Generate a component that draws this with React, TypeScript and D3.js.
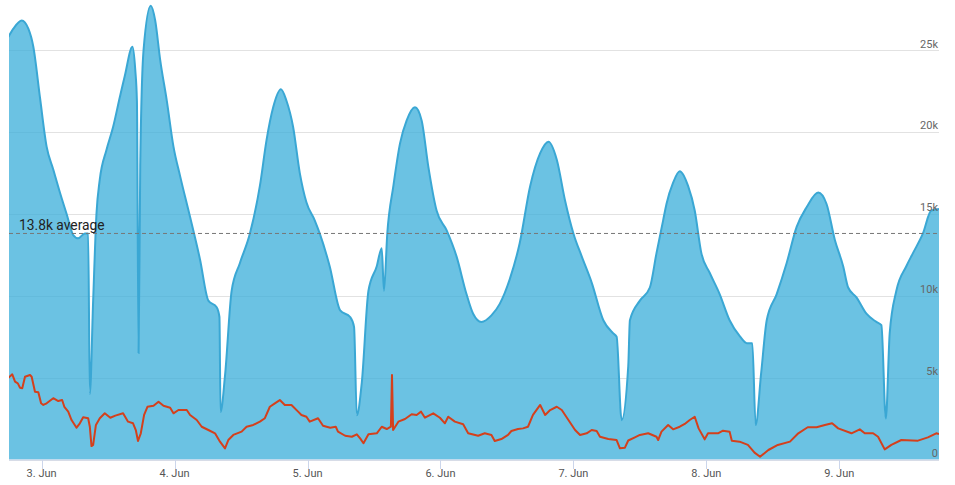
import React from "react";
import * as d3 from "d3";

// hours since 2 Jun 18:00
const blueHours = [0, 0.9, 2.4, 3.6, 4.5, 5.7, 6.9, 8.1, 9.3, 10.5, 11.7, 12.6, 13.8, 14.4, 14.7, 15.3, 15.9, 16.5, 17.7, 18.9, 20.1, 21.0, 22.4, 22.9, 23.2, 23.5, 23.8, 24.4, 25.7, 26.5, 27.4, 28.6, 29.8, 31.0, 32.8, 34.6, 36.1, 37.6, 38.1, 38.3, 39.1, 40.3, 41.8, 43.6, 45.4, 46.6, 47.8, 49.2, 50.2, 51.4, 52.6, 53.8, 55.3, 56.2, 58.0, 59.9, 61.7, 62.4, 62.9, 63.8, 65.0, 66.5, 67.4, 67.8, 68.4, 69.5, 70.7, 71.9, 73.4, 74.6, 75.8, 77.3, 79.1, 80.9, 82.7, 83.9, 85.4, 87.2, 88.7, 90.5, 92.3, 94.2, 96.0, 97.5, 99.0, 100.5, 102.0, 103.5, 105.3, 107.4, 109.2, 109.8, 110.7, 111.9, 112.2, 114.0, 115.8, 117.0, 118.2, 118.8, 120.0, 121.2, 122.7, 123.9, 125.1, 126.6, 128.4, 130.2, 132.1, 133.3, 134.3, 134.9, 135.9, 136.9, 138.7, 140.5, 142.3, 144.1, 146.2, 147.7, 149.2, 150.7, 151.6, 153.1, 154.9, 156.7, 157.6, 158.4, 159.1, 160.3, 162.1, 163.3, 165.1, 166.6, 168];
const blueValues = [25800, 26300, 26800, 26300, 25200, 22100, 19100, 17700, 16300, 15000, 13700, 13500, 13800, 13800, 4000, 9700, 15000, 17100, 18900, 20300, 22100, 23400, 25200, 23800, 21900, 6500, 17900, 25000, 27700, 26800, 24400, 21900, 19100, 17300, 14800, 12200, 9700, 9300, 8700, 2900, 5100, 10300, 12000, 13800, 16700, 19500, 21500, 22600, 21900, 20300, 17500, 15700, 14600, 13800, 11800, 9100, 8700, 8100, 2700, 4700, 10300, 11800, 12900, 10300, 13800, 16700, 19300, 20700, 21500, 20700, 17900, 15200, 14000, 12400, 10100, 8900, 8400, 8800, 9500, 11000, 13200, 16700, 18700, 19400, 18300, 15800, 13800, 12400, 10800, 8500, 7700, 7500, 2400, 5700, 8500, 9700, 10500, 12600, 14600, 15600, 16900, 17600, 16700, 15200, 12600, 11400, 10100, 8500, 7500, 7100, 7100, 2100, 5300, 8500, 10100, 12000, 14200, 15400, 16300, 15600, 13400, 11800, 10500, 9900, 8900, 8400, 8200, 2500, 7700, 10300, 11800, 12600, 13800, 15200, 15300];

const redHours = [0, 0.7, 1.2, 1.7, 2.1, 2.5, 3.0, 3.9, 4.2, 4.8, 5.4, 5.9, 6.3, 6.9, 8.1, 9.0, 9.7, 10.1, 10.8, 11.4, 12.3, 12.9, 13.5, 14.4, 14.7, 15.0, 15.3, 15.8, 16.5, 17.4, 18.4, 19.3, 20.7, 21.6, 22.5, 23.0, 23.4, 23.9, 24.5, 25.1, 26.2, 27.1, 28.0, 29.2, 29.8, 30.7, 32.2, 32.8, 34.0, 34.9, 36.1, 37.3, 38.2, 39.1, 39.7, 40.6, 42.1, 43.0, 44.2, 45.4, 46.3, 47.2, 48.1, 49.0, 49.9, 51.1, 52.3, 52.9, 53.8, 54.4, 55.9, 56.8, 58.1, 59.1, 59.5, 60.8, 62.0, 62.9, 63.5, 64.1, 65.0, 66.5, 67.4, 68.3, 69.05, 69.25, 69.45, 70.4, 71.6, 72.8, 73.7, 74.5, 75.2, 76.7, 77.9, 78.8, 79.4, 80.6, 82.1, 83.0, 84.8, 86.0, 87.2, 87.8, 89.0, 90.2, 90.8, 92.0, 92.9, 93.8, 94.7, 96.0, 96.9, 97.8, 99.0, 99.9, 101.1, 102.3, 103.2, 104.4, 105.3, 106.2, 106.8, 108.3, 109.8, 110.4, 111.3, 111.9, 113.1, 114.0, 115.5, 117.0, 117.3, 117.9, 119.1, 120.0, 121.2, 122.1, 123.0, 123.9, 124.6, 125.7, 126.3, 128.1, 129.0, 130.2, 130.6, 132.0, 133.5, 134.7, 135.7, 137.2, 138.9, 141.1, 142.6, 144.3, 145.9, 147.4, 148.7, 149.8, 152.2, 153.7, 154.6, 156.1, 157.0, 158.2, 159.4, 161.2, 164.2, 166.0, 167.5, 168];
const redValues = [4990, 5200, 4750, 4650, 4380, 4350, 5050, 5160, 5050, 4140, 4100, 3430, 3330, 3430, 3740, 3570, 3630, 3220, 2920, 2410, 1940, 2210, 2580, 2520, 2000, 820, 890, 2110, 2520, 2820, 2550, 2680, 2820, 2310, 2210, 1800, 1130, 1600, 2720, 3220, 3280, 3530, 3280, 3160, 2820, 3020, 3020, 2720, 2410, 2000, 1800, 1600, 1090, 680, 1190, 1500, 1700, 2000, 2110, 2310, 2520, 3220, 3430, 3630, 3330, 3330, 2920, 2720, 2610, 2310, 2520, 2060, 1940, 2000, 1700, 1450, 1390, 1540, 1290, 990, 1540, 1600, 2000, 1860, 2000, 5160, 1800, 2310, 2470, 2760, 2720, 2920, 2550, 2820, 2550, 2210, 2610, 2310, 2150, 1600, 1450, 1600, 1500, 1130, 1250, 1500, 1740, 1860, 1900, 2000, 2720, 3330, 2720, 3020, 3220, 3020, 2410, 1800, 1500, 1600, 1800, 1740, 1390, 1250, 1190, 680, 720, 1160, 1350, 1500, 1600, 1390, 1190, 1700, 2110, 1840, 2000, 2170, 2410, 2610, 1900, 1230, 1600, 1600, 1760, 1700, 1150, 1090, 890, 420, 170, 580, 890, 1090, 1600, 1970, 1970, 2110, 2210, 1900, 1600, 1840, 1600, 1600, 1390, 620, 890, 1190, 1150, 1350, 1600, 1550];

const yTicks = [0, 5000, 10000, 15000, 20000, 25000];
const yTickLabels = ["0", "5k", "10k", "15k", "20k", "25k"];
const xTickLabels = ["3. Jun", "4. Jun", "5. Jun", "6. Jun", "7. Jun", "8. Jun", "9. Jun"];
const averageValue = 13800;
const averageLabel = "13.8k average";

const W = 955;
const H = 485;
const start = Date.UTC(2024, 5, 2, 18);
const HOUR = 3600 * 1000;

type P = { t: Date; v: number };

export default function App() {
  const x = d3
    .scaleTime()
    .domain([new Date(start), new Date(start + 168 * HOUR)])
    .range([8.4, 939]);
  const y = d3.scaleLinear().domain([0, 25000]).range([459.5, 50]);

  const blue: P[] = blueHours.map((h, i) => ({ t: new Date(start + h * HOUR), v: blueValues[i] }));
  const red: P[] = redHours.map((h, i) => ({ t: new Date(start + h * HOUR), v: redValues[i] }));

  const area = d3
    .area<P>()
    .x((d) => x(d.t))
    .y0(y(0))
    .y1((d) => y(d.v))
    .curve(d3.curveMonotoneX);
  const line = d3
    .line<P>()
    .x((d) => x(d.t))
    .y((d) => y(d.v))
    .curve(d3.curveMonotoneX);
  const redLine = d3
    .line<P>()
    .x((d) => x(d.t))
    .y((d) => y(d.v))
    .curve(d3.curveLinear);

  const dayTicks = xTickLabels.map((_, i) => new Date(start + (6 + 24 * i) * HOUR));
  const font = "Roboto, 'Noto Sans', sans-serif";

  return (
    <svg
      width={W}
      height={H}
      style={{ position: "absolute", left: 0, top: 0, background: "#fff" }}
      fontFamily={font}
    >
      <defs>
        <clipPath id="plot">
          <rect x={9} y={0} width={930} height={460} />
        </clipPath>
      </defs>
      {yTicks.map((t) => (
        <line key={t} x1={9} x2={939} y1={Math.round(y(t)) + 0.5} y2={Math.round(y(t)) + 0.5} stroke="#e2e2e2" strokeWidth={1} />
      ))}
      <g clipPath="url(#plot)">
        <path d={area(blue) || ""} fill="#3aaed9" fillOpacity={0.75} />
        <path d={line(blue) || ""} fill="none" stroke="#3aa7d4" strokeWidth={2} />
        <path d={redLine(red) || ""} fill="none" stroke="#d4401c" strokeWidth={2} strokeLinejoin="round" />
      </g>
      <line x1={9} x2={939} y1={y(averageValue)} y2={y(averageValue)} stroke="#777" strokeWidth={1} strokeDasharray="4,3" />
      <text x={19} y={230} fontSize={13.8} fill="#222">{averageLabel}</text>
      {yTicks.map((t, i) => (
        <text key={"l" + t} x={938} y={y(t) - 2.5} fontSize={11} fill="#666" textAnchor="end">
          {yTickLabels[i]}
        </text>
      ))}
      <line x1={9} x2={939} y1={460} y2={460} stroke="#ccd6eb" strokeWidth={1} />
      {dayTicks.map((d, i) => (
        <g key={i}>
          <line x1={Math.round(x(d)) + 0.5} x2={Math.round(x(d)) + 0.5} y1={460} y2={469} stroke="#ccd6eb" />
          <text x={x(d)} y={477} fontSize={11} fill="#555" textAnchor="middle">
            {xTickLabels[i]}
          </text>
        </g>
      ))}
    </svg>
  );
}
